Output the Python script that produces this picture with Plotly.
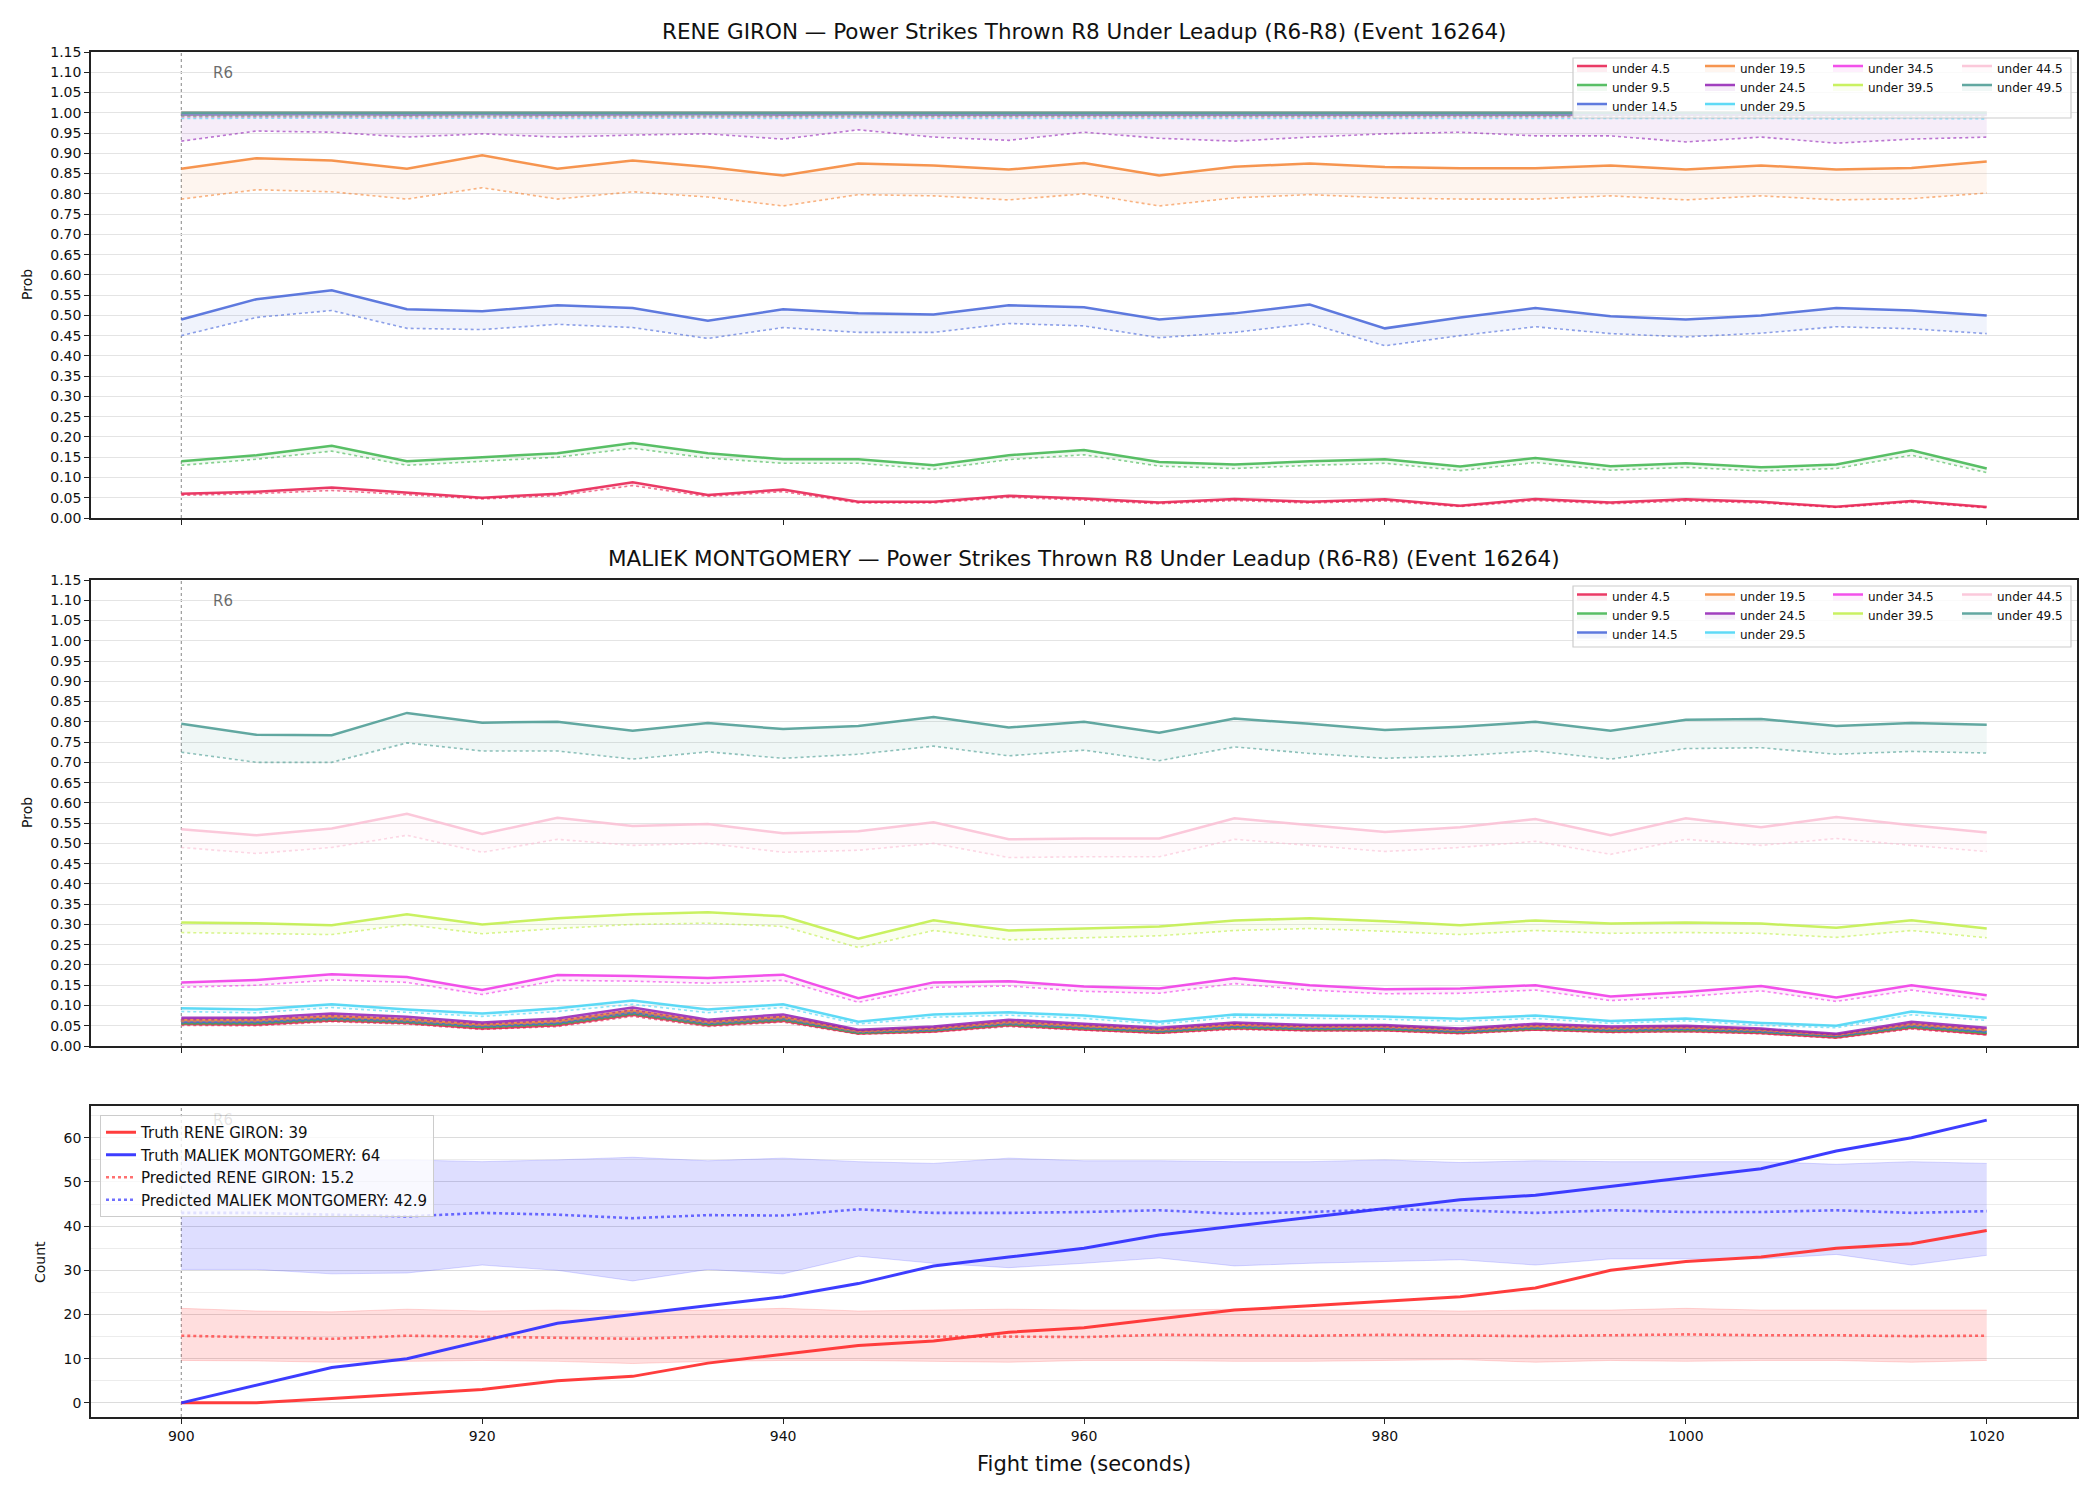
import plotly.graph_objects as go

# ---------------- data ----------------
TIME = [900, 905, 910, 915, 920, 925, 930, 935, 940, 945, 950, 955, 960,
        965, 970, 975, 980, 985, 990, 995, 1000, 1005, 1010, 1015, 1020]

LABELS = ["under 4.5", "under 9.5", "under 14.5", "under 19.5", "under 24.5",
          "under 29.5", "under 34.5", "under 39.5", "under 44.5", "under 49.5"]

# RENE GIRON (upper = solid, lower = dotted)
G_HI_4 = [0.060, 0.065, 0.075, 0.062, 0.050, 0.060, 0.088, 0.057, 0.070, 0.040, 0.040, 0.055, 0.048, 0.038, 0.047, 0.040, 0.046, 0.030, 0.047, 0.038, 0.046, 0.040, 0.028, 0.042, 0.027]
G_LO_4 = [0.056, 0.060, 0.068, 0.057, 0.047, 0.055, 0.080, 0.053, 0.065, 0.037, 0.037, 0.051, 0.044, 0.035, 0.043, 0.037, 0.042, 0.028, 0.043, 0.035, 0.042, 0.037, 0.026, 0.039, 0.025]
G_HI_9 = [0.140, 0.155, 0.178, 0.140, 0.150, 0.160, 0.185, 0.160, 0.145, 0.145, 0.130, 0.155, 0.168, 0.138, 0.132, 0.140, 0.145, 0.127, 0.148, 0.128, 0.135, 0.125, 0.132, 0.167, 0.122]
G_LO_9 = [0.130, 0.145, 0.165, 0.130, 0.140, 0.150, 0.172, 0.148, 0.135, 0.135, 0.120, 0.144, 0.156, 0.128, 0.122, 0.130, 0.135, 0.117, 0.137, 0.118, 0.125, 0.116, 0.122, 0.155, 0.112]
G_HI_14 = [0.490, 0.540, 0.562, 0.515, 0.510, 0.525, 0.518, 0.487, 0.515, 0.505, 0.502, 0.525, 0.520, 0.490, 0.505, 0.527, 0.468, 0.495, 0.518, 0.498, 0.490, 0.500, 0.518, 0.512, 0.500]
G_LO_14 = [0.450, 0.495, 0.512, 0.468, 0.465, 0.478, 0.470, 0.443, 0.470, 0.458, 0.458, 0.480, 0.474, 0.445, 0.458, 0.480, 0.425, 0.450, 0.472, 0.455, 0.447, 0.456, 0.472, 0.467, 0.455]
G_HI_19 = [0.862, 0.888, 0.882, 0.862, 0.895, 0.862, 0.882, 0.866, 0.845, 0.875, 0.870, 0.860, 0.876, 0.845, 0.867, 0.875, 0.866, 0.863, 0.863, 0.870, 0.860, 0.870, 0.860, 0.864, 0.880]
G_LO_19 = [0.787, 0.810, 0.805, 0.787, 0.815, 0.787, 0.805, 0.792, 0.770, 0.798, 0.795, 0.785, 0.800, 0.770, 0.790, 0.798, 0.790, 0.787, 0.787, 0.795, 0.785, 0.795, 0.785, 0.788, 0.802]
G_HI_24 = [0.996, 0.997, 0.997, 0.996, 0.997, 0.996, 0.997, 0.997, 0.996, 0.997, 0.996, 0.996, 0.997, 0.996, 0.996, 0.996, 0.997, 0.997, 0.996, 0.996, 0.996, 0.996, 0.995, 0.996, 0.996]
G_LO_24 = [0.930, 0.955, 0.952, 0.940, 0.948, 0.940, 0.945, 0.948, 0.935, 0.958, 0.940, 0.932, 0.952, 0.937, 0.930, 0.940, 0.948, 0.952, 0.943, 0.943, 0.928, 0.940, 0.925, 0.935, 0.940]
G_HI_29 = [0.999, 0.999, 0.999, 0.999, 0.999, 0.999, 0.999, 0.999, 0.999, 0.999, 0.999, 0.999, 0.999, 0.999, 0.999, 0.999, 0.999, 0.999, 0.999, 0.999, 0.999, 0.999, 0.999, 0.999, 0.999]
G_LO_29 = [0.986, 0.987, 0.987, 0.986, 0.987, 0.986, 0.987, 0.987, 0.986, 0.987, 0.986, 0.986, 0.987, 0.986, 0.986, 0.986, 0.987, 0.987, 0.986, 0.986, 0.986, 0.986, 0.985, 0.986, 0.985]
G_HI_34 = [1.000, 1.000, 1.000, 1.000, 1.000, 1.000, 1.000, 1.000, 1.000, 1.000, 1.000, 1.000, 1.000, 1.000, 1.000, 1.000, 1.000, 1.000, 1.000, 1.000, 1.000, 1.000, 1.000, 1.000, 1.000]
G_LO_34 = [0.990, 0.990, 0.990, 0.990, 0.990, 0.990, 0.990, 0.990, 0.990, 0.990, 0.990, 0.990, 0.990, 0.990, 0.990, 0.990, 0.990, 0.990, 0.990, 0.990, 0.990, 0.990, 0.989, 0.990, 0.990]
G_HI_39 = [1.000, 1.000, 1.000, 1.000, 1.000, 1.000, 1.000, 1.000, 1.000, 1.000, 1.000, 1.000, 1.000, 1.000, 1.000, 1.000, 1.000, 1.000, 1.000, 1.000, 1.000, 1.000, 1.000, 1.000, 1.000]
G_LO_39 = [0.991, 0.991, 0.991, 0.991, 0.991, 0.991, 0.991, 0.991, 0.991, 0.991, 0.991, 0.991, 0.991, 0.991, 0.991, 0.991, 0.991, 0.991, 0.991, 0.991, 0.991, 0.991, 0.991, 0.991, 0.991]
G_HI_44 = [1.000, 1.000, 1.000, 1.000, 1.000, 1.000, 1.000, 1.000, 1.000, 1.000, 1.000, 1.000, 1.000, 1.000, 1.000, 1.000, 1.000, 1.000, 1.000, 1.000, 1.000, 1.000, 1.000, 1.000, 1.000]
G_LO_44 = [0.991, 0.991, 0.991, 0.991, 0.991, 0.991, 0.991, 0.991, 0.991, 0.991, 0.991, 0.991, 0.991, 0.991, 0.991, 0.991, 0.991, 0.991, 0.991, 0.991, 0.991, 0.991, 0.991, 0.991, 0.991]
G_HI_49 = [1.000, 1.000, 1.000, 1.000, 1.000, 1.000, 1.000, 1.000, 1.000, 1.000, 1.000, 1.000, 1.000, 1.000, 1.000, 1.000, 1.000, 1.000, 1.000, 1.000, 1.000, 1.000, 1.000, 1.000, 1.000]
G_LO_49 = [0.992, 0.992, 0.992, 0.992, 0.992, 0.992, 0.992, 0.992, 0.992, 0.992, 0.992, 0.992, 0.992, 0.992, 0.992, 0.992, 0.992, 0.992, 0.992, 0.992, 0.992, 0.992, 0.992, 0.992, 0.992]

# MALIEK MONTGOMERY
M_HI_4 = [0.054, 0.053, 0.063, 0.057, 0.043, 0.051, 0.077, 0.051, 0.062, 0.031, 0.036, 0.051, 0.041, 0.033, 0.044, 0.039, 0.039, 0.032, 0.041, 0.035, 0.037, 0.032, 0.021, 0.045, 0.029]
M_LO_4 = [0.051, 0.050, 0.060, 0.054, 0.041, 0.048, 0.073, 0.048, 0.059, 0.029, 0.034, 0.048, 0.039, 0.031, 0.041, 0.037, 0.037, 0.030, 0.039, 0.033, 0.035, 0.030, 0.019, 0.042, 0.027]
M_HI_9 = [0.057, 0.057, 0.067, 0.060, 0.047, 0.055, 0.081, 0.054, 0.066, 0.033, 0.039, 0.054, 0.044, 0.036, 0.047, 0.042, 0.042, 0.035, 0.044, 0.038, 0.040, 0.035, 0.024, 0.048, 0.033]
M_LO_9 = [0.054, 0.054, 0.063, 0.057, 0.045, 0.052, 0.077, 0.051, 0.062, 0.031, 0.037, 0.051, 0.042, 0.034, 0.044, 0.040, 0.040, 0.033, 0.041, 0.036, 0.038, 0.033, 0.022, 0.045, 0.031]
M_HI_14 = [0.060, 0.060, 0.070, 0.063, 0.050, 0.058, 0.084, 0.057, 0.069, 0.035, 0.041, 0.057, 0.047, 0.038, 0.050, 0.045, 0.045, 0.037, 0.047, 0.041, 0.043, 0.037, 0.026, 0.051, 0.036]
M_LO_14 = [0.057, 0.057, 0.066, 0.059, 0.047, 0.055, 0.080, 0.054, 0.065, 0.033, 0.039, 0.054, 0.044, 0.036, 0.047, 0.042, 0.042, 0.035, 0.044, 0.038, 0.040, 0.035, 0.024, 0.048, 0.034]
M_HI_19 = [0.064, 0.064, 0.074, 0.066, 0.053, 0.062, 0.088, 0.060, 0.072, 0.037, 0.044, 0.060, 0.050, 0.041, 0.053, 0.048, 0.048, 0.040, 0.050, 0.044, 0.046, 0.040, 0.028, 0.055, 0.040]
M_LO_19 = [0.060, 0.060, 0.070, 0.062, 0.050, 0.058, 0.083, 0.056, 0.068, 0.034, 0.041, 0.056, 0.047, 0.038, 0.050, 0.045, 0.045, 0.037, 0.047, 0.041, 0.043, 0.037, 0.026, 0.051, 0.037]
M_HI_24 = [0.070, 0.070, 0.080, 0.072, 0.058, 0.068, 0.095, 0.065, 0.078, 0.040, 0.048, 0.065, 0.055, 0.045, 0.058, 0.052, 0.052, 0.043, 0.055, 0.048, 0.050, 0.043, 0.030, 0.060, 0.045]
M_LO_24 = [0.065, 0.065, 0.075, 0.067, 0.054, 0.063, 0.089, 0.060, 0.073, 0.037, 0.044, 0.060, 0.051, 0.041, 0.054, 0.048, 0.048, 0.040, 0.051, 0.044, 0.046, 0.040, 0.027, 0.055, 0.041]
M_HI_29 = [0.093, 0.090, 0.103, 0.090, 0.080, 0.093, 0.112, 0.090, 0.103, 0.060, 0.078, 0.083, 0.075, 0.060, 0.078, 0.075, 0.073, 0.067, 0.075, 0.062, 0.068, 0.057, 0.050, 0.085, 0.070]
M_LO_29 = [0.085, 0.082, 0.095, 0.083, 0.073, 0.085, 0.103, 0.082, 0.095, 0.054, 0.071, 0.076, 0.068, 0.054, 0.071, 0.068, 0.066, 0.061, 0.068, 0.056, 0.062, 0.051, 0.045, 0.077, 0.063]
M_HI_34 = [0.157, 0.163, 0.177, 0.170, 0.138, 0.175, 0.173, 0.168, 0.176, 0.118, 0.157, 0.160, 0.147, 0.142, 0.167, 0.150, 0.140, 0.142, 0.150, 0.122, 0.133, 0.148, 0.120, 0.150, 0.125]
M_LO_34 = [0.145, 0.150, 0.163, 0.157, 0.127, 0.162, 0.160, 0.155, 0.162, 0.108, 0.145, 0.148, 0.135, 0.130, 0.154, 0.138, 0.129, 0.130, 0.138, 0.112, 0.122, 0.136, 0.110, 0.138, 0.114]
M_HI_39 = [0.305, 0.303, 0.298, 0.325, 0.300, 0.315, 0.325, 0.330, 0.320, 0.265, 0.310, 0.285, 0.290, 0.295, 0.310, 0.315, 0.308, 0.298, 0.310, 0.302, 0.305, 0.302, 0.292, 0.310, 0.290]
M_LO_39 = [0.280, 0.278, 0.275, 0.300, 0.277, 0.290, 0.300, 0.303, 0.295, 0.243, 0.285, 0.262, 0.267, 0.272, 0.285, 0.290, 0.283, 0.275, 0.285, 0.278, 0.280, 0.278, 0.268, 0.285, 0.267]
M_HI_44 = [0.535, 0.520, 0.537, 0.573, 0.523, 0.563, 0.543, 0.548, 0.525, 0.530, 0.552, 0.510, 0.512, 0.512, 0.562, 0.545, 0.528, 0.540, 0.560, 0.520, 0.562, 0.540, 0.565, 0.545, 0.527]
M_LO_44 = [0.490, 0.475, 0.490, 0.520, 0.478, 0.510, 0.495, 0.500, 0.478, 0.483, 0.500, 0.465, 0.467, 0.467, 0.510, 0.495, 0.480, 0.490, 0.505, 0.473, 0.510, 0.495, 0.512, 0.495, 0.480]
M_HI_49 = [0.795, 0.768, 0.767, 0.822, 0.798, 0.800, 0.778, 0.797, 0.782, 0.790, 0.812, 0.786, 0.800, 0.773, 0.808, 0.795, 0.780, 0.788, 0.800, 0.778, 0.805, 0.807, 0.790, 0.797, 0.793]
M_LO_49 = [0.725, 0.700, 0.700, 0.748, 0.728, 0.728, 0.708, 0.726, 0.710, 0.720, 0.740, 0.716, 0.730, 0.704, 0.738, 0.722, 0.710, 0.716, 0.728, 0.708, 0.734, 0.736, 0.720, 0.727, 0.723]

# Counts
TRUTH_G = [0, 0, 1, 2, 3, 5, 6, 9, 11, 13, 14, 16, 17, 19, 21, 22, 23, 24, 26, 30, 32, 33, 35, 36, 39]
TRUTH_M = [0, 4, 8, 10, 14, 18, 20, 22, 24, 27, 31, 33, 35, 38, 40, 42, 44, 46, 47, 49, 51, 53, 57, 60, 64]
PRED_G = [15.2, 14.8, 14.5, 15.2, 15.0, 14.8, 14.5, 15.0, 15.0, 15.0, 15.1, 15.0, 14.9, 15.4, 15.3, 15.2, 15.4, 15.3, 15.1, 15.3, 15.5, 15.3, 15.3, 15.1, 15.2]
PRED_G_LOW = [9.6, 9.5, 9.2, 9.4, 9.6, 9.4, 8.9, 9.4, 9.6, 9.6, 9.4, 9.2, 9.6, 9.6, 9.4, 9.4, 9.6, 9.8, 9.2, 9.6, 9.4, 9.6, 9.6, 9.2, 9.6]
PRED_G_UP = [21.4, 20.8, 20.6, 21.2, 20.8, 21.0, 20.8, 21.0, 21.4, 20.8, 21.0, 21.2, 21.0, 21.0, 21.2, 21.0, 21.0, 20.8, 21.0, 21.0, 21.4, 21.0, 21.0, 21.0, 21.0]
PRED_M = [43.0, 43.0, 42.6, 42.2, 43.0, 42.6, 41.8, 42.5, 42.4, 43.8, 43.0, 43.0, 43.2, 43.6, 42.8, 43.2, 43.8, 43.6, 43.0, 43.6, 43.2, 43.2, 43.6, 43.0, 43.4]
PRED_M_LOW = [30.2, 30.2, 29.2, 29.4, 31.2, 30.0, 27.6, 30.2, 29.2, 33.2, 31.6, 30.6, 31.6, 32.8, 31.0, 31.6, 32.0, 32.4, 31.2, 32.6, 32.6, 32.6, 33.6, 31.2, 33.4]
PRED_M_UP = [55.0, 54.8, 54.8, 55.0, 54.6, 55.0, 55.6, 54.8, 55.4, 54.6, 54.2, 55.4, 54.8, 54.8, 54.6, 54.6, 55.0, 54.4, 54.8, 54.6, 54.6, 54.6, 54.0, 54.6, 54.2]

G_TOTAL = 39
M_TOTAL = 64
G_PRED_TOTAL = 15.2
M_PRED_TOTAL = 42.9

TITLE_G = "RENE GIRON — Power Strikes Thrown R8 Under Leadup (R6-R8) (Event 16264)"
TITLE_M = "MALIEK MONTGOMERY — Power Strikes Thrown R8 Under Leadup (R6-R8) (Event 16264)"

# ---------------- style ----------------
COLORS = ["#e6194b", "#3cb44b", "#4363d8", "#f58231", "#911eb4",
          "#42d4f4", "#f032e6", "#bfef45", "#fabed4", "#469990"]
LEG_COL = [0, 0, 0, 1, 1, 1, 2, 2, 3, 3]
FONT = "DejaVu Sans"
W, H = 2100, 1500
ML, MR, MT, MB = 91, 23, 52, 83
PW, PH = W - ML - MR, H - MT - MB


def rgba(hx, a):
    hx = hx.lstrip("#")
    r, g, b = int(hx[0:2], 16), int(hx[2:4], 16), int(hx[4:6], 16)
    return f"rgba({r},{g},{b},{a})"


def py2paper(py):
    return (H - MB - py) / PH


def px2paper(px):
    return (px - ML) / PW


fig = go.Figure()

G_HI = [G_HI_4, G_HI_9, G_HI_14, G_HI_19, G_HI_24, G_HI_29, G_HI_34, G_HI_39, G_HI_44, G_HI_49]
G_LO = [G_LO_4, G_LO_9, G_LO_14, G_LO_19, G_LO_24, G_LO_29, G_LO_34, G_LO_39, G_LO_44, G_LO_49]
M_HI = [M_HI_4, M_HI_9, M_HI_14, M_HI_19, M_HI_24, M_HI_29, M_HI_34, M_HI_39, M_HI_44, M_HI_49]
M_LO = [M_LO_4, M_LO_9, M_LO_14, M_LO_19, M_LO_24, M_LO_29, M_LO_34, M_LO_39, M_LO_44, M_LO_49]


def add_prob_panel(his, los, xa, ya, leg_base):
    for i, lab in enumerate(LABELS):
        c = COLORS[i]
        fig.add_trace(go.Scatter(
            x=TIME, y=los[i], mode="lines", xaxis=xa, yaxis=ya,
            line=dict(color=rgba(c, 0.6), width=1.6, dash="dot"),
            showlegend=False, hoverinfo="skip"))
        leg = "legend" if leg_base + LEG_COL[i] == 1 else f"legend{leg_base + LEG_COL[i]}"
        fig.add_trace(go.Scatter(
            x=TIME, y=his[i], mode="lines", xaxis=xa, yaxis=ya,
            line=dict(color=rgba(c, 0.85), width=2.5),
            fill="tonexty", fillcolor=rgba(c, 0.08),
            name=lab, legend=leg, showlegend=True))


add_prob_panel(G_HI, G_LO, "x", "y", 1)
add_prob_panel(M_HI, M_LO, "x2", "y2", 5)

# bottom: count panel
RED, BLUE = "#ff3333", "#3333ff"
for low, up, col in [(PRED_G_LOW, PRED_G_UP, RED), (PRED_M_LOW, PRED_M_UP, BLUE)]:
    fig.add_trace(go.Scatter(x=TIME, y=low, mode="lines", xaxis="x3", yaxis="y3",
                             line=dict(color=rgba(col, 0.18), width=1),
                             showlegend=False, hoverinfo="skip"))
    fig.add_trace(go.Scatter(x=TIME, y=up, mode="lines", xaxis="x3", yaxis="y3",
                             line=dict(color=rgba(col, 0.18), width=1),
                             fill="tonexty", fillcolor=rgba(col, 0.16),
                             showlegend=False, hoverinfo="skip"))

fig.add_trace(go.Scatter(x=TIME, y=PRED_G, mode="lines", xaxis="x3", yaxis="y3",
                         line=dict(color=rgba(RED, 0.7), width=2.6, dash="dot"),
                         name=f"Predicted RENE GIRON: {G_PRED_TOTAL}", legend="legend9", legendrank=3))
fig.add_trace(go.Scatter(x=TIME, y=PRED_M, mode="lines", xaxis="x3", yaxis="y3",
                         line=dict(color=rgba(BLUE, 0.7), width=2.6, dash="dot"),
                         name=f"Predicted MALIEK MONTGOMERY: {M_PRED_TOTAL}", legend="legend9", legendrank=4))
fig.add_trace(go.Scatter(x=TIME, y=TRUTH_G, mode="lines", xaxis="x3", yaxis="y3",
                         line=dict(color=rgba(RED, 0.95), width=3),
                         name=f"Truth RENE GIRON: {G_TOTAL}", legend="legend9", legendrank=1))
fig.add_trace(go.Scatter(x=TIME, y=TRUTH_M, mode="lines", xaxis="x3", yaxis="y3",
                         line=dict(color=rgba(BLUE, 0.95), width=3),
                         name=f"Truth MALIEK MONTGOMERY: {M_TOTAL}", legend="legend9", legendrank=2))

# ---------------- layout ----------------
d1 = [py2paper(518), py2paper(52)]
d2 = [py2paper(1046), py2paper(580)]
d3 = [py2paper(1417), py2paper(1106)]

axis_common = dict(showline=True, mirror=True, linecolor="#222", linewidth=1.5,
                   ticks="outside", ticklen=5, tickwidth=1.2, tickcolor="#222",
                   zeroline=False, tickfont=dict(family=FONT, size=14, color="#111"))
xrange = [894, 1026]
xticks = [900, 920, 940, 960, 980, 1000, 1020]

layout = dict(
    width=W, height=H, paper_bgcolor="white", plot_bgcolor="white",
    margin=dict(l=ML, r=MR, t=MT, b=MB, autoexpand=False),
    font=dict(family=FONT, size=14, color="#111"),
    xaxis=dict(domain=[0, 1], anchor="y", range=xrange, tickvals=xticks,
               showticklabels=False, showgrid=False, **axis_common),
    xaxis2=dict(domain=[0, 1], anchor="y2", range=xrange, tickvals=xticks,
                showticklabels=False, showgrid=False, **axis_common),
    xaxis3=dict(domain=[0, 1], anchor="y3", range=xrange, tickvals=xticks,
                showticklabels=True, showgrid=False, **axis_common),
    yaxis=dict(domain=d1, anchor="x", range=[0, 1.15], dtick=0.05, tick0=0,
               tickformat=".2f", showgrid=True, gridcolor="#e4e4e4", gridwidth=1,
               **axis_common),
    yaxis2=dict(domain=d2, anchor="x2", range=[0, 1.15], dtick=0.05, tick0=0,
                tickformat=".2f", showgrid=True, gridcolor="#e4e4e4", gridwidth=1,
                **axis_common),
    yaxis3=dict(domain=d3, anchor="x3", range=[-3.2, 67.2], dtick=10, tick0=0,
                showgrid=True, gridcolor="#dcdcdc", gridwidth=1,
                minor=dict(dtick=5, tick0=0, showgrid=True, gridcolor="#ececec", gridwidth=1),
                **axis_common),
)

# column legends for the two probability panels
col_px = [1577, 1705, 1833, 1962]
for base, top in [(1, 53.5), (5, 582)]:
    for k, cx in enumerate(col_px):
        name = "legend" if base + k == 1 else f"legend{base + k}"
        layout[name] = dict(
            x=(cx - 5) / W, y=1 - top / H, xref="container", yref="container",
            xanchor="left", yanchor="top", orientation="v", traceorder="normal",
            bgcolor="rgba(0,0,0,0)", borderwidth=0,
            font=dict(family=FONT, size=12, color="#111"),
            itemwidth=30, tracegroupgap=0)

layout["legend9"] = dict(
    x=100 / W, y=1 - 1115 / H, xref="container", yref="container",
    xanchor="left", yanchor="top", orientation="v",
    bgcolor="rgba(255,255,255,0.8)", bordercolor="#cccccc", borderwidth=1,
    font=dict(family=FONT, size=15, color="#111"), itemwidth=30, traceorder="normal")

fig.update_layout(**layout)

# legend boxes for top panels
for y0p, y1p in [(118, 58), (647, 586)]:
    fig.add_shape(type="rect", xref="paper", yref="paper",
                  x0=px2paper(1573), x1=px2paper(2071), y0=py2paper(y0p), y1=py2paper(y1p),
                  line=dict(color="#cccccc", width=1.2), fillcolor="rgba(255,255,255,0.8)",
                  layer="above")

# vertical round marker lines
for ya in ["y", "y2", "y3"]:
    fig.add_shape(type="line", xref="x" if ya == "y" else "x" + ya[1:], yref=f"{ya} domain",
                  x0=900, x1=900, y0=0, y1=1,
                  line=dict(color="rgba(80,80,80,0.7)", width=1, dash="dot"), layer="below")

# R6 labels (the bottom one sits behind the legend, drawn faint)
for xa, ya, yv, col in [("x", "y", 1.097, "rgba(60,60,60,0.75)"),
                        ("x2", "y2", 1.097, "rgba(60,60,60,0.75)"),
                        ("x3", "y3", 64.0, "rgba(60,60,60,0.15)")]:
    fig.add_annotation(x=902, y=yv, xref=xa, yref=ya, text="R6", showarrow=False,
                       xanchor="left", yanchor="middle",
                       font=dict(family=FONT, size=15, color=col))

# titles
for txt, py in [(TITLE_G, 31), (TITLE_M, 558)]:
    fig.add_annotation(x=0.5, y=py2paper(py), xref="paper", yref="paper", text=txt,
                       showarrow=False, xanchor="center", yanchor="middle",
                       font=dict(family=FONT, size=21.5, color="#111"))

fig.add_annotation(x=0.5, y=py2paper(1464), xref="paper", yref="paper",
                   text="Fight time (seconds)", showarrow=False,
                   xanchor="center", yanchor="middle",
                   font=dict(family=FONT, size=21, color="#111"))

for txt, px, py in [("Prob", 27, 285), ("Prob", 27, 813), ("Count", 40, 1262)]:
    fig.add_annotation(x=px2paper(px), y=py2paper(py), xref="paper", yref="paper",
                       text=txt, textangle=-90, showarrow=False,
                       xanchor="center", yanchor="middle",
                       font=dict(family=FONT, size=14, color="#111"))

fig.write_html("out.html")
